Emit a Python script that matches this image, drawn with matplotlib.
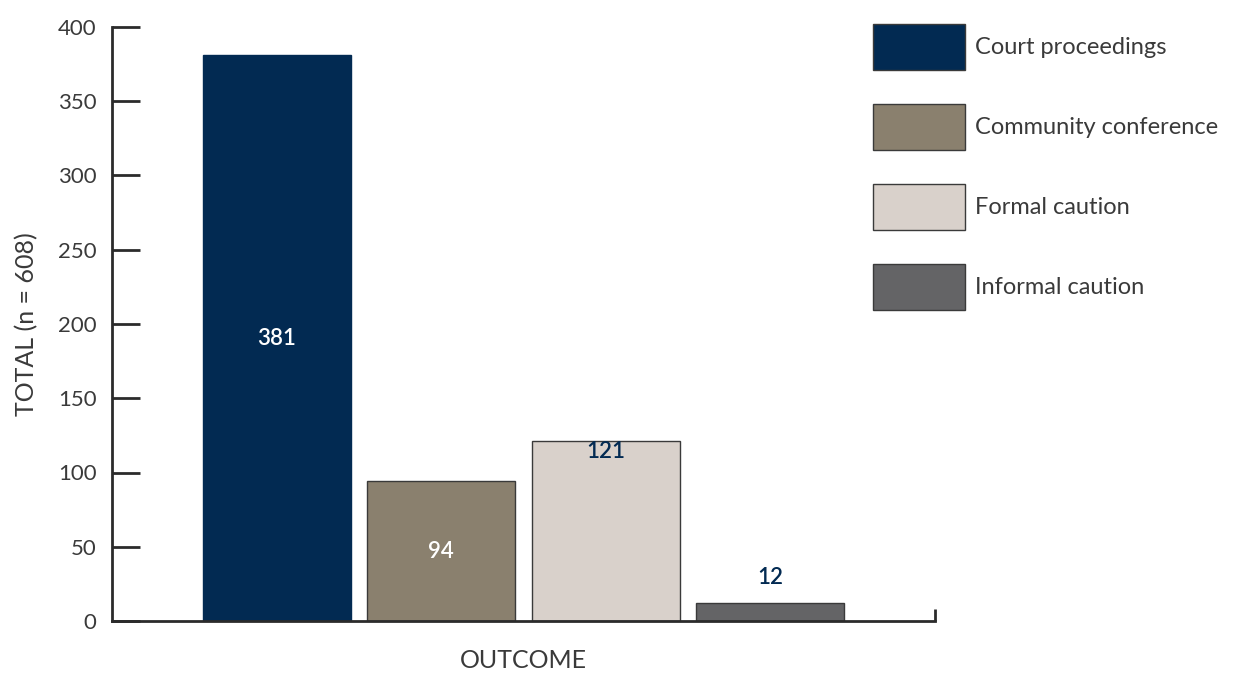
import matplotlib
matplotlib.use("Agg")
import matplotlib.pyplot as plt
from matplotlib.patches import Rectangle

# outcome counts
outcomes = ["Court proceedings", "Community conference", "Formal caution", "Informal caution"]
totals = [381, 94, 121, 12]
colours = ["#022a52", "#8a806e", "#d9d1cb", "#646466"]
yticks = [0, 50, 100, 150, 200, 250, 300, 350, 400]

plt.rcParams['font.family'] = ['Lato', 'DejaVu Sans']
axis_col = "#2b2b2b"
text_col = "#3a3a3a"

W, H = 1235, 677
fig = plt.figure(figsize=(W / 100, H / 100), dpi=100)
ax = fig.add_axes([112 / W, 1 - 621 / H, (935 - 112) / W, (621 - 27) / H])

xs = range(len(totals))
for i in xs:
    ax.bar(i, totals[i], width=0.9, color=colours[i],
           edgecolor=colours[i] if i == 0 else "#3a3a3a", linewidth=1.0, zorder=2)

# value labels
lab_style = dict(ha="center", va="center", fontsize=16, fontweight="semibold")
ax.text(0, totals[0] / 2, str(totals[0]), color="white", **lab_style)
ax.text(1, totals[1] / 2, str(totals[1]), color="white", **lab_style)
ax.text(2, totals[2] - 7, str(totals[2]), color="#022a52", **lab_style)
ax.text(3, totals[3] + 17, str(totals[3]), color="#022a52", **lab_style)

ax.set_xlim(-1, 4)
ax.set_ylim(0, 400)
ax.set_yticks(yticks)
ax.set_xticks([])
ax.tick_params(axis="y", direction="in", length=20, width=2, color=axis_col,
               labelsize=16, labelcolor=text_col, pad=11)
for s in ["top", "right"]:
    ax.spines[s].set_visible(False)
for s in ["left", "bottom"]:
    ax.spines[s].set_linewidth(2)
    ax.spines[s].set_color(axis_col)
ax.spines["bottom"].set_zorder(3)
# small end tick at the right of the x axis
ax.plot([4, 4], [0, 8], color=axis_col, lw=2, clip_on=False, solid_capstyle="butt")

ax.set_ylabel("TOTAL (n = 608)", fontsize=18, color=text_col, labelpad=14)
ax.set_xlabel("OUTCOME", fontsize=18, color=text_col, labelpad=20)

# legend boxes
for k, name in enumerate(outcomes):
    top = 24 + 80 * k
    fig.add_artist(Rectangle((873 / W, 1 - (top + 46) / H), 92 / W, 46 / H,
                             transform=fig.transFigure, facecolor=colours[k],
                             edgecolor="#3a3a3a", linewidth=1.0))
    fig.text(975 / W, 1 - (top + 23) / H, name, ha="left", va="center",
             fontsize=17, color=text_col)

fig.savefig("out.png", dpi=100)
